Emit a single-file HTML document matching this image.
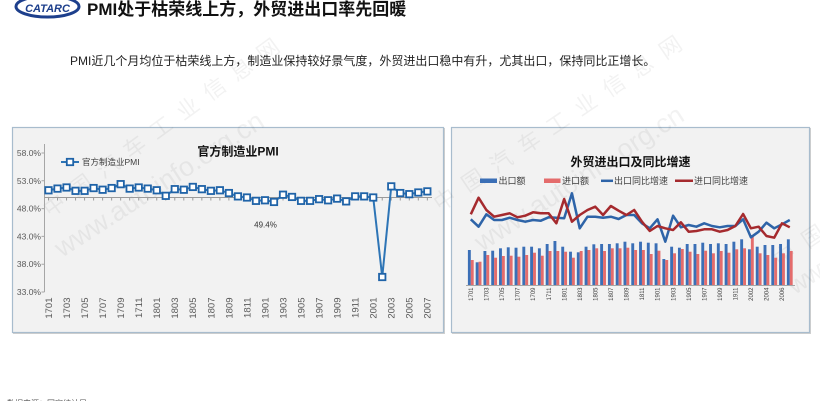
<!DOCTYPE html>
<html><head><meta charset="utf-8"><style>
html,body{margin:0;padding:0;background:#fff;}
body{width:820px;height:401px;overflow:hidden;}
svg{display:block;}
text{font-family:"Liberation Sans","Noto Sans CJK SC",sans-serif;}
</style></head><body>
<svg width="820" height="401" viewBox="0 0 820 401" xmlns="http://www.w3.org/2000/svg">
<defs>
<marker id="sq" markerWidth="10" markerHeight="10" refX="5" refY="5" markerUnits="userSpaceOnUse">
<rect x="1.8" y="1.8" width="6.4" height="6.4" fill="#ffffff" stroke="#1f63a8" stroke-width="1.8"/>
</marker>
</defs>
<rect width="820" height="401" fill="#ffffff"/>

<!-- Logo -->
<ellipse cx="47.5" cy="6.5" rx="31.5" ry="10.5" fill="none" stroke="#1d3f8c" stroke-width="3"/>
<text x="47.5" y="12" font-size="11" font-weight="bold" font-style="italic" fill="#1d3f8c" text-anchor="middle">CATARC</text>

<!-- Title -->
<text x="87" y="15" font-size="17" font-weight="bold" fill="#111">PMI处于枯荣线上方，外贸进出口率先回暖</text>
<text x="70" y="65" font-size="12" fill="#222">PMI近几个月均位于枯荣线上方，制造业保持较好景气度，外贸进出口稳中有升，尤其出口，保持同比正增长。</text>

<!-- Panels -->
<rect x="13.5" y="128.5" width="431" height="205" fill="none" stroke="#cfcfcf" stroke-width="1"/>
<rect x="12.5" y="127.5" width="431" height="205" fill="#f2f2f2" stroke="#a8bccd" stroke-width="1.2"/>
<rect x="452.5" y="128.5" width="358" height="205" fill="none" stroke="#cfcfcf" stroke-width="1"/>
<rect x="451.5" y="127.5" width="358" height="205" fill="#f2f2f2" stroke="#a8bccd" stroke-width="1.2"/>

<!-- Watermarks -->
<g fill="#000" fill-opacity="0.05" font-size="22">
<text transform="translate(50,218) rotate(-36)" letter-spacing="11">中国汽车工业信息网</text>
<text transform="translate(62,258) rotate(-33)" font-size="27">www.autoinfo.org.cn</text>
<text transform="translate(440,212) rotate(-34)" letter-spacing="12">中国汽车工业信息网</text>
<text transform="translate(482,252) rotate(-33)" font-size="27">www.autoinfo.org.cn</text>
<text transform="translate(780,268) rotate(-34)" letter-spacing="12">中国汽车</text>
<text transform="translate(795,295) rotate(-33)" font-size="25">www</text>
</g>

<!-- LEFT CHART -->
<text x="238" y="155.5" font-size="12" font-weight="bold" fill="#111" text-anchor="middle">官方制造业PMI</text>
<line x1="61" y1="162" x2="79" y2="162" stroke="#2e75b6" stroke-width="2"/>
<rect x="66.8" y="158.8" width="6.4" height="6.4" fill="#fff" stroke="#1f63a8" stroke-width="1.8"/>
<text x="82" y="165" font-size="8.5" fill="#404040">官方制造业PMI</text>

<g font-size="8.5" fill="#595959" text-anchor="end">
<text x="41" y="156">58.0%</text>
<text x="41" y="183.8">53.0%</text>
<text x="41" y="211.6">48.0%</text>
<text x="41" y="239.4">43.0%</text>
<text x="41" y="267.2">38.0%</text>
<text x="41" y="295">33.0%</text>
</g>
<line x1="44.5" y1="144" x2="44.5" y2="292" stroke="#a6a6a6" stroke-width="1"/>
<path d="M41.5 153h3M41.5 180.8h3M41.5 208.6h3M41.5 236.4h3M41.5 264.2h3M41.5 292h3" stroke="#a6a6a6" stroke-width="1"/>
<line x1="44.5" y1="197.5" x2="432" y2="197.5" stroke="#9a9a9a" stroke-width="1"/>
<path d="M48.5 197.5v3M57.52 197.5v3M66.54 197.5v3M75.56 197.5v3M84.58 197.5v3M93.6 197.5v3M102.62 197.5v3M111.64 197.5v3M120.66 197.5v3M129.68 197.5v3M138.7 197.5v3M147.72 197.5v3M156.74 197.5v3M165.76 197.5v3M174.78 197.5v3M183.8 197.5v3M192.82 197.5v3M201.84 197.5v3M210.86 197.5v3M219.88 197.5v3M228.9 197.5v3M237.92 197.5v3M246.94 197.5v3M255.96 197.5v3M264.98 197.5v3M274 197.5v3M283.02 197.5v3M292.04 197.5v3M301.06 197.5v3M310.08 197.5v3M319.1 197.5v3M328.12 197.5v3M337.14 197.5v3M346.16 197.5v3M355.18 197.5v3M364.2 197.5v3M373.22 197.5v3M382.24 197.5v3M391.26 197.5v3M400.28 197.5v3M409.3 197.5v3M418.32 197.5v3M427.34 197.5v3" stroke="#9a9a9a" stroke-width="1"/>

<polyline fill="none" stroke="#2e75b6" stroke-width="2" stroke-linejoin="round" marker-start="url(#sq)" marker-mid="url(#sq)" marker-end="url(#sq)" points="48.5,190.27 57.52,188.6 66.54,187.49 75.56,190.83 84.58,190.83 93.6,188.05 102.62,189.72 111.64,188.05 120.66,184.16 129.68,188.6 138.7,187.49 147.72,188.6 156.74,190.27 165.76,195.83 174.78,189.16 183.8,189.72 192.82,186.94 201.84,189.16 210.86,190.83 219.88,190.27 228.9,193.05 237.92,196.39 246.94,197.5 255.96,200.84 264.98,200.28 274,201.95 283.02,194.72 292.04,196.94 301.06,200.84 310.08,200.84 319.1,199.17 328.12,200.28 337.14,198.61 346.16,201.39 355.18,196.39 364.2,196.39 373.22,197.5 382.24,277.01 391.26,186.38 400.28,193.05 409.3,194.16 418.32,192.5 427.34,191.38"/>

<text x="265.5" y="227.5" font-size="8" fill="#333" text-anchor="middle">49.4%</text>

<g font-size="9.5" fill="#595959" text-anchor="end">
<text transform="translate(51.9,297.5) rotate(-90)">1701</text>
<text transform="translate(69.94,297.5) rotate(-90)">1703</text>
<text transform="translate(87.98,297.5) rotate(-90)">1705</text>
<text transform="translate(106.02,297.5) rotate(-90)">1707</text>
<text transform="translate(124.06,297.5) rotate(-90)">1709</text>
<text transform="translate(142.1,297.5) rotate(-90)">1711</text>
<text transform="translate(160.14,297.5) rotate(-90)">1801</text>
<text transform="translate(178.18,297.5) rotate(-90)">1803</text>
<text transform="translate(196.22,297.5) rotate(-90)">1805</text>
<text transform="translate(214.26,297.5) rotate(-90)">1807</text>
<text transform="translate(232.3,297.5) rotate(-90)">1809</text>
<text transform="translate(250.34,297.5) rotate(-90)">1811</text>
<text transform="translate(268.38,297.5) rotate(-90)">1901</text>
<text transform="translate(286.42,297.5) rotate(-90)">1903</text>
<text transform="translate(304.46,297.5) rotate(-90)">1905</text>
<text transform="translate(322.5,297.5) rotate(-90)">1907</text>
<text transform="translate(340.54,297.5) rotate(-90)">1909</text>
<text transform="translate(358.58,297.5) rotate(-90)">1911</text>
<text transform="translate(376.62,297.5) rotate(-90)">2001</text>
<text transform="translate(394.66,297.5) rotate(-90)">2003</text>
<text transform="translate(412.7,297.5) rotate(-90)">2005</text>
<text transform="translate(430.74,297.5) rotate(-90)">2007</text>
</g>

<!-- RIGHT CHART -->
<text x="630.5" y="166" font-size="12" font-weight="bold" fill="#111" text-anchor="middle">外贸进出口及同比增速</text>
<rect x="480" y="178.5" width="17" height="4.5" fill="#3b6fb6"/>
<text x="498.5" y="184" font-size="9" fill="#404040">出口额</text>
<rect x="544" y="178.5" width="16.5" height="4.5" fill="#e46c6c"/>
<text x="562" y="184" font-size="9" fill="#404040">进口额</text>
<line x1="601" y1="180.8" x2="613" y2="180.8" stroke="#2e64a8" stroke-width="2.5"/>
<text x="614" y="184" font-size="9" fill="#404040">出口同比增速</text>
<line x1="675" y1="180.8" x2="693" y2="180.8" stroke="#a52a2e" stroke-width="2.5"/>
<text x="694" y="184" font-size="9" fill="#404040">进口同比增速</text>

<g fill="#3b6fb6">
<rect x="467.9" y="250" width="2.9" height="35"/>
<rect x="475.68" y="262.3" width="2.9" height="22.7"/>
<rect x="483.46" y="251" width="2.9" height="34"/>
<rect x="491.24" y="250.7" width="2.9" height="34.3"/>
<rect x="499.02" y="248.3" width="2.9" height="36.7"/>
<rect x="506.8" y="247.3" width="2.9" height="37.7"/>
<rect x="514.58" y="247.7" width="2.9" height="37.3"/>
<rect x="522.36" y="246.7" width="2.9" height="38.3"/>
<rect x="530.14" y="246.7" width="2.9" height="38.3"/>
<rect x="537.92" y="248.3" width="2.9" height="36.7"/>
<rect x="545.7" y="244" width="2.9" height="41"/>
<rect x="553.48" y="241" width="2.9" height="44"/>
<rect x="561.26" y="246.7" width="2.9" height="38.3"/>
<rect x="569.04" y="251.7" width="2.9" height="33.3"/>
<rect x="576.82" y="252.3" width="2.9" height="32.7"/>
<rect x="584.6" y="246.7" width="2.9" height="38.3"/>
<rect x="592.38" y="244.3" width="2.9" height="40.7"/>
<rect x="600.16" y="244" width="2.9" height="41"/>
<rect x="607.94" y="244" width="2.9" height="41"/>
<rect x="615.72" y="243.3" width="2.9" height="41.7"/>
<rect x="623.5" y="241.7" width="2.9" height="43.3"/>
<rect x="631.28" y="243.3" width="2.9" height="41.7"/>
<rect x="639.06" y="241.7" width="2.9" height="43.3"/>
<rect x="646.84" y="242.7" width="2.9" height="42.3"/>
<rect x="654.62" y="243.3" width="2.9" height="41.7"/>
<rect x="662.4" y="259" width="2.9" height="26"/>
<rect x="670.18" y="246.7" width="2.9" height="38.3"/>
<rect x="677.96" y="247.7" width="2.9" height="37.3"/>
<rect x="685.74" y="244" width="2.9" height="41"/>
<rect x="693.52" y="244" width="2.9" height="41"/>
<rect x="701.3" y="242.7" width="2.9" height="42.3"/>
<rect x="709.08" y="244" width="2.9" height="41"/>
<rect x="716.86" y="243.3" width="2.9" height="41.7"/>
<rect x="724.64" y="244" width="2.9" height="41"/>
<rect x="732.42" y="241.7" width="2.9" height="43.3"/>
<rect x="740.2" y="239.3" width="2.9" height="45.7"/>
<rect x="747.98" y="249.3" width="2.9" height="35.7"/>
<rect x="755.76" y="246.7" width="2.9" height="38.3"/>
<rect x="763.54" y="245" width="2.9" height="40"/>
<rect x="771.32" y="245" width="2.9" height="40"/>
<rect x="779.1" y="244" width="2.9" height="41"/>
<rect x="786.88" y="239.3" width="2.9" height="45.7"/>
</g>
<g fill="#e46c6c">
<rect x="470.8" y="260" width="2.9" height="25"/>
<rect x="478.58" y="261.7" width="2.9" height="23.3"/>
<rect x="486.36" y="255" width="2.9" height="30"/>
<rect x="494.14" y="257.7" width="2.9" height="27.3"/>
<rect x="501.92" y="256" width="2.9" height="29"/>
<rect x="509.7" y="255.7" width="2.9" height="29.3"/>
<rect x="517.48" y="256.7" width="2.9" height="28.3"/>
<rect x="525.26" y="255" width="2.9" height="30"/>
<rect x="533.04" y="252.7" width="2.9" height="32.3"/>
<rect x="540.82" y="255.7" width="2.9" height="29.3"/>
<rect x="548.6" y="251" width="2.9" height="34"/>
<rect x="556.38" y="251" width="2.9" height="34"/>
<rect x="564.16" y="251.7" width="2.9" height="33.3"/>
<rect x="571.94" y="257.7" width="2.9" height="27.3"/>
<rect x="579.72" y="251" width="2.9" height="34"/>
<rect x="587.5" y="250" width="2.9" height="35"/>
<rect x="595.28" y="248.3" width="2.9" height="36.7"/>
<rect x="603.06" y="251" width="2.9" height="34"/>
<rect x="610.84" y="248.3" width="2.9" height="36.7"/>
<rect x="618.62" y="248.3" width="2.9" height="36.7"/>
<rect x="626.4" y="247.7" width="2.9" height="37.3"/>
<rect x="634.18" y="250" width="2.9" height="35"/>
<rect x="641.96" y="250" width="2.9" height="35"/>
<rect x="649.74" y="254" width="2.9" height="31"/>
<rect x="657.52" y="250.7" width="2.9" height="34.3"/>
<rect x="665.3" y="260" width="2.9" height="25"/>
<rect x="673.08" y="253.3" width="2.9" height="31.7"/>
<rect x="680.86" y="249" width="2.9" height="36"/>
<rect x="688.64" y="251.7" width="2.9" height="33.3"/>
<rect x="696.42" y="254" width="2.9" height="31"/>
<rect x="704.2" y="250.7" width="2.9" height="34.3"/>
<rect x="711.98" y="253.3" width="2.9" height="31.7"/>
<rect x="719.76" y="251" width="2.9" height="34"/>
<rect x="727.54" y="252.7" width="2.9" height="32.3"/>
<rect x="735.32" y="249.3" width="2.9" height="35.7"/>
<rect x="743.1" y="248.3" width="2.9" height="36.7"/>
<rect x="750.88" y="235" width="2.9" height="50"/>
<rect x="758.66" y="253.3" width="2.9" height="31.7"/>
<rect x="766.44" y="255" width="2.9" height="30"/>
<rect x="774.22" y="257.7" width="2.9" height="27.3"/>
<rect x="782" y="253.3" width="2.9" height="31.7"/>
<rect x="789.78" y="251" width="2.9" height="34"/>
</g>
<line x1="466" y1="285.5" x2="795" y2="285.5" stroke="#a6a6a6" stroke-width="1"/>

<polyline fill="none" stroke="#2e64a8" stroke-width="2.5" stroke-linejoin="round" points="470.8,219.3 478.58,226.7 486.36,214.3 494.14,220 501.92,220 509.7,217.7 517.48,220 525.26,221.7 533.04,220 540.82,220.7 548.6,217.3 556.38,217.7 564.16,218.3 571.94,193.3 579.72,228.3 587.5,216.7 595.28,216.7 603.06,217.7 610.84,216.7 618.62,219 626.4,215 634.18,215 641.96,223.3 649.74,228.3 657.52,219.3 665.3,241.7 673.08,215.7 680.86,227.3 688.64,225 696.42,226.7 704.2,223.3 711.98,226 719.76,227.3 727.54,226 735.32,226 743.1,219.3 750.88,237.3 758.66,231.7 766.44,222.7 774.22,228.3 782,224.3 789.78,220"/>
<polyline fill="none" stroke="#a52a2e" stroke-width="2.5" stroke-linejoin="round" points="470.8,214.3 478.58,197.7 486.36,210 494.14,216.7 501.92,215 509.7,213.3 517.48,217.3 525.26,215.7 533.04,212.3 540.82,213.3 548.6,213.3 556.38,223.3 564.16,199 571.94,221.7 579.72,215 587.5,210 595.28,206.7 603.06,215 610.84,206 618.62,210.7 626.4,215 634.18,210 641.96,221.7 649.74,231 657.52,226 665.3,228.3 673.08,230 680.86,222.3 688.64,231.7 696.42,231 704.2,229.3 711.98,229.3 719.76,231.7 727.54,230 735.32,226 743.1,214 750.88,228.3 758.66,226.7 766.44,236 774.22,237.7 782,223.3 789.78,227.3"/>

<g font-size="6" fill="#404040" text-anchor="end">
<text transform="translate(473,287.5) rotate(-90)">1701</text>
<text transform="translate(488.56,287.5) rotate(-90)">1703</text>
<text transform="translate(504.12,287.5) rotate(-90)">1705</text>
<text transform="translate(519.68,287.5) rotate(-90)">1707</text>
<text transform="translate(535.24,287.5) rotate(-90)">1709</text>
<text transform="translate(550.8,287.5) rotate(-90)">1711</text>
<text transform="translate(566.36,287.5) rotate(-90)">1801</text>
<text transform="translate(581.92,287.5) rotate(-90)">1803</text>
<text transform="translate(597.48,287.5) rotate(-90)">1805</text>
<text transform="translate(613.04,287.5) rotate(-90)">1807</text>
<text transform="translate(628.6,287.5) rotate(-90)">1809</text>
<text transform="translate(644.16,287.5) rotate(-90)">1811</text>
<text transform="translate(659.72,287.5) rotate(-90)">1901</text>
<text transform="translate(675.28,287.5) rotate(-90)">1903</text>
<text transform="translate(690.84,287.5) rotate(-90)">1905</text>
<text transform="translate(706.4,287.5) rotate(-90)">1907</text>
<text transform="translate(721.96,287.5) rotate(-90)">1909</text>
<text transform="translate(737.52,287.5) rotate(-90)">1911</text>
<text transform="translate(753.08,287.5) rotate(-90)">2002</text>
<text transform="translate(768.64,287.5) rotate(-90)">2004</text>
<text transform="translate(784.2,287.5) rotate(-90)">2006</text>
</g>

<!-- Source -->
<text x="7" y="406" font-size="8" fill="#555">数据来源：国家统计局</text>
</svg>
</body></html>
